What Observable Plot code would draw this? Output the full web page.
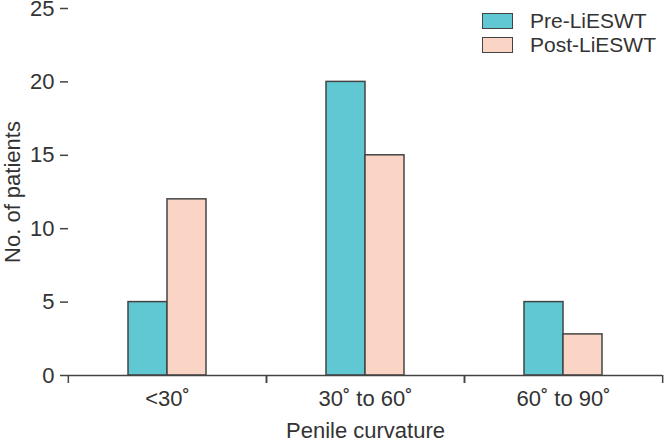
<!DOCTYPE html>
<html>
<head>
<meta charset="utf-8">
<script src="https://cdn.jsdelivr.net/npm/d3@7"></script>
<script src="https://cdn.jsdelivr.net/npm/@observablehq/plot@0.6"></script>
<style>
  html, body { margin: 0; padding: 0; background: #fff; }
  #wrap { position: relative; width: 664px; height: 442px; font-family: "Liberation Sans", Arial, sans-serif; }
  #legend { position: absolute; left: 482px; top: 9px; font-size: 21px; color: #333; }
  .row { display: flex; align-items: center; height: 24px; }
  .sw { width: 29px; height: 14px; border: 1.5px solid #444; margin-right: 17px; }
</style>
</head>
<body>
<div id="wrap"></div>
<script>
const categories = ["<30˚", "30˚ to 60˚", "60˚ to 90˚"];
const series = ["Pre-LiESWT", "Post-LiESWT"];
const preValues = [5, 20, 5];
const postValues = [12, 15, 2.8];
const yTicks = [0, 5, 10, 15, 20, 25];
const colors = ["#5fc8d3", "#fad5c5"];

const data = categories.flatMap((c, i) => [
  {category: c, series: series[0], value: preValues[i]},
  {category: c, series: series[1], value: postValues[i]}
]);

const W = 664, H = 442, ML = 67, MR = 2, MT = 8, MB = 67;
const bandW = (W - ML - MR) / categories.length;
const FS = 22;

const chart = Plot.plot({
  width: W, height: H,
  marginLeft: ML, marginRight: MR, marginTop: MT, marginBottom: MB,
  style: {fontFamily: '"Liberation Sans", Arial, sans-serif', fontSize: FS + "px", color: "#333", background: "#fff", overflow: "visible"},
  fx: {domain: categories, paddingInner: 0, paddingOuter: 0, label: null, axis: null},
  x: {domain: series, paddingInner: 0, paddingOuter: 1.5, axis: null},
  y: {domain: [0, 25], ticks: yTicks, axis: null},
  color: {domain: series, range: colors},
  marks: [
    Plot.barY(data, {fx: "category", x: "series", y: "value", fill: "series", stroke: "#444", strokeWidth: 1.5}),
    Plot.ruleY([0], {stroke: "#444", strokeWidth: 1.5}),
    Plot.ruleX([categories[0]], {fx: d => d, render(index, scales, values, dimensions) {
      const y = scales.y;
      const g = d3.create("svg:g");
      g.append("line")
        .attr("x1", dimensions.marginLeft).attr("x2", dimensions.marginLeft)
        .attr("y1", y(0)).attr("y2", y(25))
        .attr("stroke", "#444").attr("stroke-width", 1.5);
      return g.node();
    }}),
    Plot.axisY({ticks: yTicks, tickSize: 8, tickPadding: 6, stroke: "#444", strokeWidth: 1.5, fontSize: FS,
      label: "No. of patients", labelAnchor: "center", labelArrow: "none", labelOffset: 64}),
    Plot.axisFx({anchor: "bottom", tickSize: 8, tickFormat: () => "", dx: bandW / 2, stroke: "#444", strokeWidth: 1.5, label: null}),
    Plot.axisFx({anchor: "bottom", tickSize: 8, tickFormat: () => "", dx: -bandW / 2, stroke: "#444", strokeWidth: 1.5, label: null}),
    Plot.axisFx({anchor: "bottom", tickSize: 0, tickPadding: 15, fontSize: FS, label: "Penile curvature", labelAnchor: "center", labelArrow: "none", labelOffset: 62})
  ]
});

const wrap = document.getElementById("wrap");
wrap.appendChild(chart);

const legend = document.createElement("div");
legend.id = "legend";
series.forEach((s, i) => {
  const row = document.createElement("div");
  row.className = "row";
  const sw = document.createElement("div");
  sw.className = "sw";
  sw.style.background = colors[i];
  const label = document.createElement("span");
  label.textContent = s;
  row.appendChild(sw);
  row.appendChild(label);
  legend.appendChild(row);
});
wrap.appendChild(legend);
</script>
</body>
</html>
